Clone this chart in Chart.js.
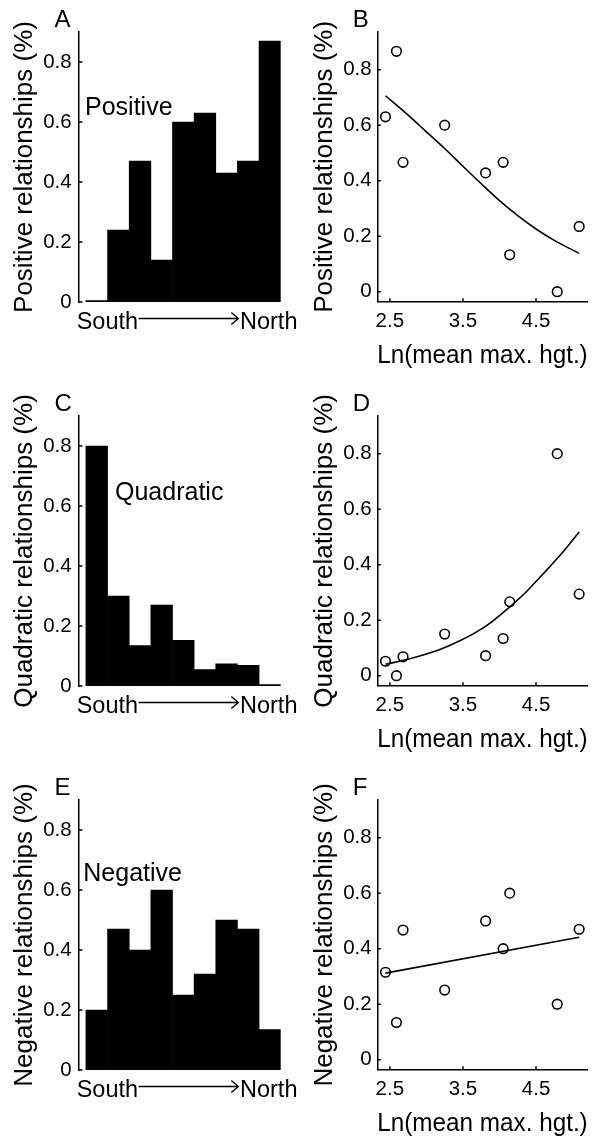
<!DOCTYPE html>
<html>
<head>
<meta charset="utf-8">
<script src="https://cdn.jsdelivr.net/npm/chart.js@4"></script>
<style>
  html, body { margin: 0; padding: 0; background: #fff; }
  #fig { position: relative; width: 600px; height: 1139px; overflow: hidden; }
  #fig canvas { position: absolute; }
</style>
</head>
<body>
<div id="fig">
  <canvas id="histPos" width="300" height="384" style="left:0;top:0"></canvas>
  <canvas id="fitPos" width="300" height="384" style="left:300px;top:0"></canvas>
  <canvas id="histQuad" width="300" height="384" style="left:0;top:384px"></canvas>
  <canvas id="fitQuad" width="300" height="384" style="left:300px;top:384px"></canvas>
  <canvas id="histNeg" width="300" height="384" style="left:0;top:768px"></canvas>
  <canvas id="fitNeg" width="300" height="384" style="left:300px;top:768px"></canvas>
</div>
<script>
// latitude bins, south (1) to north (9)
const bins = [1, 2, 3, 4, 5, 6, 7, 8, 9];
const positiveShare = [0, 0.24, 0.47, 0.14, 0.60, 0.63, 0.43, 0.47, 0.87];
const quadraticShare = [0.80, 0.30, 0.135, 0.27, 0.152, 0.055, 0.074, 0.069, 0];
const negativeShare = [0.20, 0.47, 0.40, 0.60, 0.25, 0.32, 0.50, 0.47, 0.135];

// scatter panels: x = Ln(mean max. hgt.)
const lnHeight = [2.44, 2.59, 2.68, 3.25, 3.81, 4.05, 4.14, 4.79, 5.09];
const positivePts = [0.63, 0.866, 0.466, 0.60, 0.428, 0.466, 0.133, 0, 0.235];
const quadraticPts = [0.052, 0, 0.068, 0.15, 0.072, 0.134, 0.266, 0.80, 0.294];
const negativePts = [0.315, 0.134, 0.467, 0.251, 0.50, 0.40, 0.60, 0.20, 0.47];

// fitted curves
const posFitX = [2.44, 2.75, 3.0, 3.25, 3.5, 3.75, 4.0, 4.25, 4.5, 4.75, 5.09];
const posFitY = [0.706, 0.636, 0.576, 0.516, 0.452, 0.389, 0.328, 0.274, 0.226, 0.185, 0.138];
const quadFitX = [2.44, 2.76, 3.0, 3.21, 3.45, 3.67, 3.9, 4.12, 4.35, 4.58, 4.85, 5.09];
const quadFitY = [0.041, 0.06, 0.078, 0.097, 0.125, 0.155, 0.195, 0.243, 0.298, 0.362, 0.44, 0.518];
const negFitX = [2.44, 5.09];
const negFitY = [0.312, 0.441];

const yTicks = [0, 0.2, 0.4, 0.6, 0.8];
const yTickLabels = ['0', '0.2', '0.4', '0.6', '0.8'];
const xTicks = [2.5, 3.5, 4.5];
const xTickLabels = ['2.5', '3.5', '4.5'];

const family = '"Liberation Sans", Arial, Helvetica, sans-serif';
Chart.defaults.font.family = family;
Chart.defaults.color = '#000';

// matlab style tick marks pointing into the plot
const inwardTicks = {
  id: 'inwardTicks',
  afterDatasetsDraw(chart) {
    const { ctx, chartArea: area, scales } = chart;
    ctx.save();
    ctx.strokeStyle = '#000';
    ctx.lineWidth = 1.5;
    ctx.beginPath();
    scales.y.ticks.forEach(t => {
      const py = scales.y.getPixelForValue(t.value);
      ctx.moveTo(area.left, py);
      ctx.lineTo(area.left + 3.5, py);
    });
    if (scales.x.options.display) {
      scales.x.ticks.forEach(t => {
        const px = scales.x.getPixelForValue(t.value);
        ctx.moveTo(px, area.bottom);
        ctx.lineTo(px, area.bottom - 3.5);
      });
    }
    ctx.stroke();
    ctx.restore();
  }
};

const panelText = {
  id: 'panelText',
  afterDraw(chart, args, opts) {
    const { ctx, chartArea: area } = chart;
    ctx.save();
    ctx.fillStyle = '#000';
    ctx.strokeStyle = '#000';
    ctx.textBaseline = 'alphabetic';
    ctx.font = '24px ' + family;
    ctx.fillText(opts.letter, area.left - 24.5, area.top - 5);
    if (opts.note) {
      ctx.font = '25px ' + family;
      ctx.fillText(opts.note, area.left + opts.noteDx, opts.noteY);
    }
    if (opts.arrow) {
      ctx.font = '23.5px ' + family;
      const sx = area.left - 2.3;
      ctx.fillText('South', sx, 329);
      const start = sx + ctx.measureText('South').width + 0.5;
      const northX = 240;
      ctx.fillText('North', northX, 329);
      const tip = northX - 1.7;
      ctx.lineWidth = 1.4;
      ctx.beginPath();
      ctx.moveTo(start, 318.5);
      ctx.lineTo(tip, 318.5);
      ctx.moveTo(tip - 7, 312.5);
      ctx.lineTo(tip, 318.5);
      ctx.lineTo(tip - 7, 324.5);
      ctx.stroke();
    }
    ctx.restore();
  }
};

function yAxis(min, max, title, width, pad) {
  return {
    min: min,
    max: max,
    afterBuildTicks: s => { s.ticks = yTicks.map(v => ({ value: v })); },
    afterFit: s => { s.width = width; },
    grid: { display: false, drawTicks: false },
    border: { display: true, color: '#000', width: 1.5 },
    ticks: { padding: pad, font: { size: 20.5 }, callback: (v, i) => yTickLabels[i] },
    title: { display: true, text: title, font: { size: 26 }, padding: { top: 9, bottom: 0 } }
  };
}

function histogram(id, values, yTitle, letter, note, noteDx, noteY) {
  return new Chart(document.getElementById(id), {
    type: 'bar',
    data: {
      datasets: [{
        data: bins.map((b, i) => ({ x: b, y: values[i] })),
        backgroundColor: '#000',
        borderWidth: 0,
        barPercentage: 1,
        categoryPercentage: 1,
        minBarLength: 1.5
      }]
    },
    options: {
      responsive: false,
      animation: false,
      layout: { padding: { top: 32, right: 19.3, bottom: 82, left: 0 } },
      plugins: {
        legend: { display: false },
        tooltip: { enabled: false },
        panelText: { letter: letter, note: note, noteDx: noteDx, noteY: noteY, arrow: true }
      },
      scales: {
        x: {
          type: 'linear', display: false, offset: false, min: 0.18, max: 9.5,
          afterBuildTicks: s => { s.ticks = bins.map(v => ({ value: v })); }
        },
        y: yAxis(0, 0.9, yTitle, 79, 7.3)
      }
    },
    plugins: [inwardTicks, panelText]
  });
}

function scatterPanel(id, ys, fitX, fitY, yTitle, letter) {
  return new Chart(document.getElementById(id), {
    type: 'scatter',
    data: {
      datasets: [
        {
          data: lnHeight.map((x, i) => ({ x: x, y: ys[i] })),
          pointRadius: 4.8,
          pointBorderWidth: 1.6,
          pointBorderColor: '#000',
          pointBackgroundColor: 'rgba(0,0,0,0)',
          borderColor: '#000'
        },
        {
          data: fitX.map((x, i) => ({ x: x, y: fitY[i] })),
          showLine: true,
          pointRadius: 0,
          borderColor: '#000',
          borderWidth: 1.6,
          cubicInterpolationMode: 'monotone'
        }
      ]
    },
    options: {
      responsive: false,
      animation: false,
      layout: { padding: { top: 32, right: 12.3, bottom: 12, left: 0 } },
      plugins: {
        legend: { display: false },
        tooltip: { enabled: false },
        panelText: { letter: letter }
      },
      scales: {
        x: {
          type: 'linear', min: 2.328, max: 5.207,
          afterBuildTicks: s => { s.ticks = xTicks.map(v => ({ value: v })); },
          afterFit: s => { s.height = 70.3; },
          grid: { display: false, drawTicks: false },
          border: { display: true, color: '#000', width: 1.5 },
          ticks: { padding: 7, maxRotation: 0, font: { size: 20.5 }, callback: (v, i) => xTickLabels[i] },
          title: { display: true, text: 'Ln(mean max. hgt.)', font: { size: 26.5 }, padding: { top: 0, bottom: 0 } }
        },
        y: yAxis(-0.036, 0.9356, yTitle, 77.3, 5.6)
      }
    },
    plugins: [inwardTicks, panelText]
  });
}

histogram('histPos', positiveShare, 'Positive relationships (%)', 'A', 'Positive', 6, 115);
scatterPanel('fitPos', positivePts, posFitX, posFitY, 'Positive relationships (%)', 'B');
histogram('histQuad', quadraticShare, 'Quadratic relationships (%)', 'C', 'Quadratic', 36, 116);
scatterPanel('fitQuad', quadraticPts, quadFitX, quadFitY, 'Quadratic relationships (%)', 'D');
histogram('histNeg', negativeShare, 'Negative relationships (%)', 'E', 'Negative', 4.3, 113);
scatterPanel('fitNeg', negativePts, negFitX, negFitY, 'Negative relationships (%)', 'F');
</script>
</body>
</html>
